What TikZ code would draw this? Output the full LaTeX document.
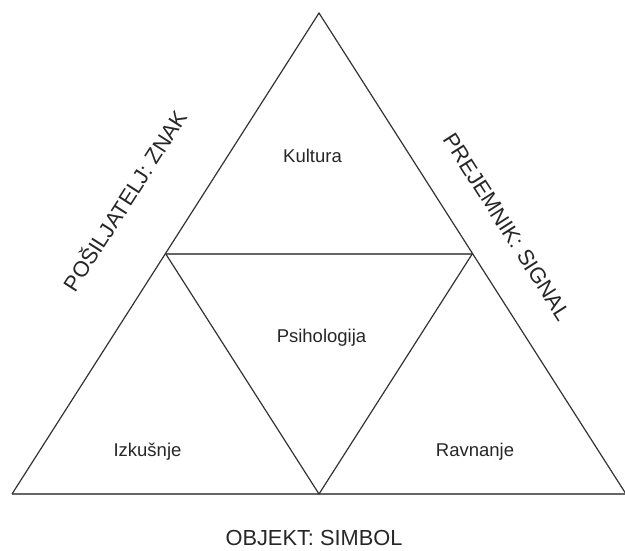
\documentclass[tikz,border=0pt]{standalone}
\usepackage{fontspec}
\setmainfont{Liberation Sans}
\usetikzlibrary{calc}
\begin{document}
\begin{tikzpicture}[x=1pt,y=-1pt,
  edge/.style={draw=black!80,line width=1.2pt},
  rule/.style={draw=black!60,line width=2pt},
  area/.style={font=\fontsize{18.5}{20}\selectfont,text=black!85,anchor=base,inner sep=0pt},
  side/.style={font=\fontsize{21.8}{24}\selectfont,text=black!85,inner sep=0pt}]
  \useasboundingbox (0,0) rectangle (625,550);
  % corners of the big triangle and midpoints of its sides
  \coordinate (top) at (319,13);
  \coordinate (bl) at (12,494);
  \coordinate (br) at (626,494);
  \coordinate (ml) at ($(top)!0.5!(bl)$);
  \coordinate (mr) at ($(top)!0.5!(br)$);
  \coordinate (mb) at ($(bl)!0.5!(br)$);
  % horizontal rules
  \draw[rule] (bl) -- (br);
  \draw[rule] (ml) -- (mr);
  % outer sides and inner triangle
  \draw[edge,line join=miter] (bl) -- (top) -- (br);
  \draw[edge] (ml) -- (mb) -- (mr);
  % region labels
  \node[area] (kult) at (312.5,162) {Kultura};
  \node[area] (psih) at (321.5,342) {Psihologija};
  \node[area] (izk) at (147.5,456) {Izkušnje};
  \node[area] (rav) at (475,456) {Ravnanje};
  % side labels
  \node[side,rotate=57.4] (send) at (124,200) {POŠILJATELJ: ZNAK};
  \node[side,rotate=-57.4] (recv) at (507,227) {PREJEMNIK: SIGNAL};
  \node[side,anchor=base] (obj) at (314,545) {OBJEKT: SIMBOL};
\end{tikzpicture}
\end{document}
